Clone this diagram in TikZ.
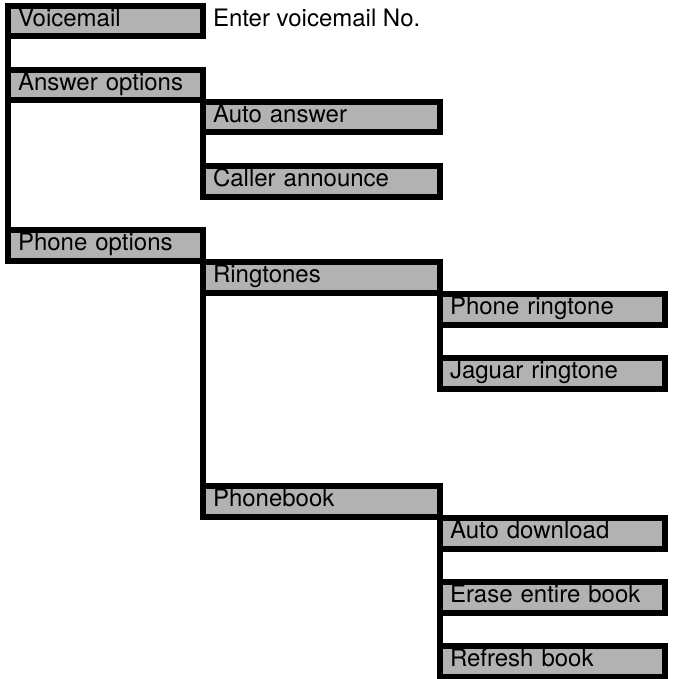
\documentclass[tikz,border=0pt]{standalone}
\usepackage{fontspec}
\setmainfont{TeX Gyre Heros}
\usetikzlibrary{positioning}
\definecolor{boxgray}{gray}{0.7}
\tikzset{
  menu/.style={draw=black, fill=boxgray, line width=6pt, rectangle, anchor=north west,
    outer sep=0pt, inner xsep=10pt, inner ysep=0pt, minimum height=30.5pt,
    text height=17pt, text depth=6pt, align=left, font=\fontsize{24}{28}\selectfont},
  menuA/.style={menu, text width=175pt},
  menuB/.style={menu, text width=217pt},
  menuC/.style={menu, text width=205pt},
  trunk/.style={line width=6pt},
}
\begin{document}
\begin{tikzpicture}[x=1pt, y=-1pt]
		\useasboundingbox (0,0) rectangle (674,679);
		%Menu niveau 1
		\node[menuA] (voicemail) at (8,6) {Voicemail};
		\node[menuA] (answeropts) at (8,70) {Answer options};
		\node[menuA] (phoneopts) at (8,230) {Phone options};
		\node[inner xsep=10pt, outer sep=0pt, anchor=west, text height=17pt, text depth=6pt, font=\fontsize{24}{28}\selectfont, right=0pt of voicemail] (voicenum) {Enter voicemail No.};
		%Menu niveau 2
		\node[menuB] (autoans) at (203,102) {Auto answer};
		\node[menuB] (caller) at (203,166) {Caller announce};
		\node[menuB] (ringtones) at (203,262) {Ringtones};
		\node[menuB] (phonebook) at (203,486) {Phonebook};
		%Menu niveau 3
		\node[menuC] (phonering) at (440,294) {Phone ringtone};
		\node[menuC] (jaguarring) at (440,358) {Jaguar ringtone};
		\node[menuC] (autodl) at (440,518) {Auto download};
		\node[menuC] (erasebook) at (440,582) {Erase entire book};
		\node[menuC] (refreshbook) at (440,646) {Refresh book};
		%Traits verticaux
		\draw[trunk] (voicemail.north west) -- (phoneopts.south west);
		\draw[trunk] (autoans.north west) -- (caller.south west);
		\draw[trunk] (ringtones.north west) -- (phonebook.south west);
		\draw[trunk] (phonering.north west) -- (jaguarring.south west);
		\draw[trunk] (autodl.north west) -- (refreshbook.south west);
\end{tikzpicture}
\end{document}
